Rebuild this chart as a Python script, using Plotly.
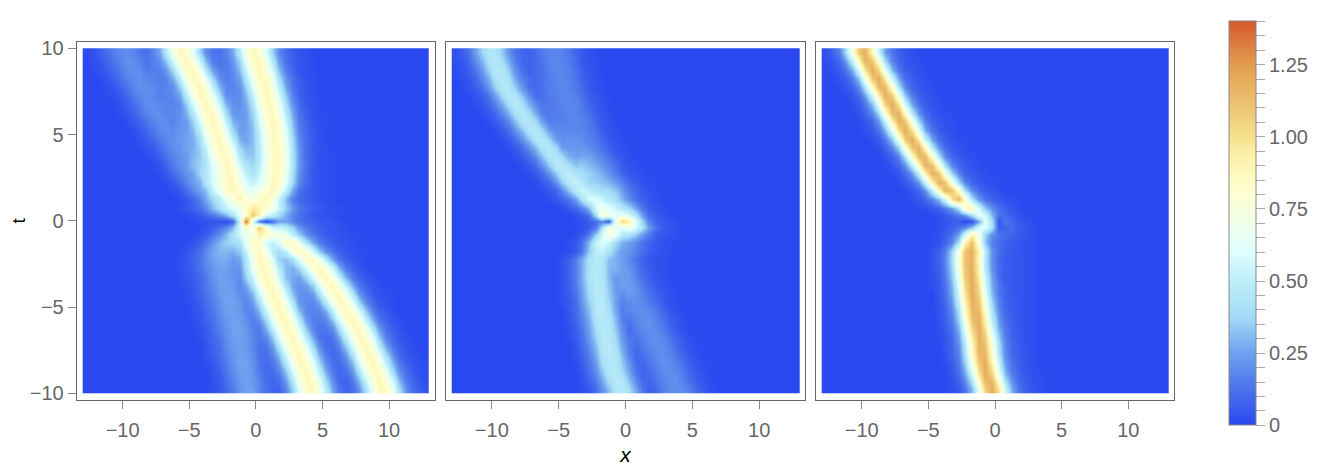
import plotly.graph_objects as go

# grid of the density maps, values are in hundredths
x_vals = [-12.75 + 0.5 * i for i in range(52)]
t_vals = [9.75, 9.25, 8.75, 8.25, 7.75, 7.25, 6.75, 6.25, 5.75, 5.25, 4.75, 4.25, 3.75, 3.25, 2.75, 2.25, 1.75, 1.25,
          0.75, 0.35, 0, -0.35, -0.75,
          -1.25, -1.75, -2.25, -2.75, -3.25, -3.75, -4.25, -4.75, -5.25, -5.75, -6.25, -6.75, -7.25, -7.75, -8.25,
          -8.75, -9.25, -9.75]


def row(x_start, vals):
    # rows only list the part that is off the background
    i = int((x_start + 12.75) / 0.5)
    return [0] * i + vals + [0] * (52 - i - len(vals))


z_left = [
    row(-12.75, [1,3,7,11,16,19,20,18,14,12,17,27,46,72,87,83,64,37,19,13,12,16,27,49,73,87,82,60,35,18,10,6,3,2,1]),
    row(-12.25, [2,4,8,12,17,20,20,17,12,16,20,32,54,78,88,78,54,30,15,13,14,22,37,64,84,87,71,45,24,12,7,4,2,1]),
    row(-12.25, [1,3,6,10,14,19,20,19,15,15,16,22,38,64,84,87,71,45,24,16,15,19,31,53,77,88,78,55,31,15,8,4,2,1]),
    row(-11.75, [1,3,7,11,16,19,20,18,17,15,17,27,47,72,87,82,62,37,19,16,18,25,44,69,86,85,66,40,21,11,6,3,2,1]),
    row(-11.25, [2,4,8,12,17,20,20,19,16,17,20,34,57,80,88,76,51,28,18,17,21,36,60,81,88,74,49,26,13,7,4,2,1]),
    row(-11.25, [1,2,5,9,14,18,20,19,16,17,19,26,45,70,87,84,65,39,20,19,20,30,50,75,88,80,58,33,16,8,4,2,1]),
    row(-10.75, [1,3,6,10,15,19,20,18,18,17,20,33,56,79,88,77,52,29,20,20,26,44,69,86,85,67,40,21,11,5,3,1]),
    row(-10.25, [2,4,7,12,17,20,20,17,19,20,27,45,69,86,85,66,40,23,22,24,38,61,82,87,73,47,26,13,7,3,2,1]),
    row(-9.75, [2,5,8,13,17,20,20,17,21,23,36,58,80,88,76,51,28,24,24,34,56,78,88,78,54,30,15,8,4,2,1]),
    row(-9.25, [2,5,9,14,18,20,19,22,23,31,48,71,87,84,64,37,24,25,32,51,74,88,81,60,33,17,9,5,2,1]),
    row(-9.25, [1,3,6,10,15,18,20,23,24,28,40,63,81,88,74,49,28,25,31,48,71,87,84,64,37,19,10,5,3,1]),
    row(-8.75, [1,3,6,11,16,20,21,26,28,36,53,76,87,82,62,36,30,32,47,69,86,85,67,40,21,11,5,3,2,1]),
    row(-8.25, [1,3,7,12,17,21,22,30,34,47,69,83,87,71,45,35,33,46,67,85,86,69,42,22,11,5,3,2,1]),
    row(-7.75, [1,4,8,14,19,23,32,36,44,62,76,88,80,57,43,37,49,67,85,86,69,42,22,12,6,3,2,1]),
    row(-7.25, [2,5,10,16,21,25,37,45,59,74,86,85,67,51,43,53,69,86,85,67,40,21,11,5,3,2,1]),
    row(-6.75, [2,5,11,17,24,28,45,59,72,81,88,74,60,50,58,72,87,82,62,37,19,10,5,3,2,1]),
    row(-6.25, [2,5,11,18,26,31,52,70,84,87,82,66,65,72,81,88,74,49,26,13,8,5,3,2,1]),
    row(-5.75, [2,4,9,16,26,38,48,62,78,88,80,74,80,88,78,52,30,16,10,7,5,3,2,1]),
    row(-5.75, [2,4,7,12,19,30,42,52,60,70,82,98,92,80,70,52,35,22,14,10,6,5,3,2,2,1]),
    row(-5.25, [1,3,5,9,14,20,28,42,62,85,108,90,58,48,38,28,18,12,8,5,4,3,2,1]),
    row(-4.75, [1,2,3,3,3,1,8,55,135,60,14,1,12,25,25,18,13,9,7,5,4,3,2,1]),
    row(-4.25, [1,3,7,12,18,30,58,78,70,108,82,55,52,48,35,22,15,10,7,5,4,3,2,1]),
    row(-4.75, [1,3,6,12,20,30,42,58,68,72,92,86,76,72,66,50,34,22,14,9,6,4,3,2,1,1]),
    row(-5.25, [1,3,7,13,22,30,35,38,42,65,86,82,58,50,62,85,86,66,42,26,16,10,6,4,3,2,1]),
    row(-5.75, [1,3,7,12,19,26,30,30,28,34,52,78,87,70,48,40,50,76,88,80,56,34,20,12,7,4,3,2,1]),
    row(-6.25, [1,2,4,8,13,19,25,27,27,23,26,44,70,87,82,58,36,32,40,62,82,87,72,46,25,13,7,4,2,1]),
    row(-6.25, [1,2,4,7,12,17,22,25,25,21,22,41,66,84,87,70,46,31,28,36,57,78,88,78,54,30,15,8,4,2,1]),
    row(-5.75, [1,3,6,10,15,21,25,25,22,20,35,54,77,88,79,56,31,27,24,36,57,80,88,76,51,28,14,8,4,2,1]),
    row(-5.75, [1,2,5,9,14,19,24,25,23,18,26,43,68,86,86,68,41,25,22,24,35,60,81,88,74,49,26,13,7,4,2,1]),
    row(-5.25, [2,4,8,12,18,23,25,24,20,19,30,52,77,88,79,56,31,21,20,22,39,65,84,87,70,44,23,12,6,3,2,1]),
    row(-5.25, [1,3,6,11,16,21,25,25,22,17,23,39,65,84,87,70,44,23,19,18,24,44,70,87,84,65,39,20,10,5,3,1]),
    row(-4.75, [2,5,9,14,20,24,25,23,18,18,29,51,76,88,80,57,32,19,17,17,26,49,74,88,81,60,34,17,9,5,2,1]),
    row(-4.75, [1,4,8,12,18,22,25,24,20,16,20,37,64,84,87,72,46,24,16,15,18,32,57,80,88,76,51,28,14,8,4,2,1]),
    row(-4.25, [3,6,11,16,21,25,25,22,17,14,27,49,74,88,81,60,34,17,13,14,20,39,65,84,87,70,44,23,12,6,3,1]),
    row(-4.25, [2,5,9,14,20,24,25,23,18,14,18,34,60,81,88,74,49,26,13,10,14,26,49,74,88,81,60,34,17,9,5,2,1]),
    row(-3.75, [4,8,12,18,23,25,23,18,13,13,24,44,70,87,84,65,39,20,11,10,17,34,60,81,88,74,49,26,13,7,4,2,1]),
    row(-3.75, [3,7,11,17,22,25,24,19,13,11,18,32,57,80,88,76,51,28,14,9,12,23,44,70,87,84,65,39,20,10,5,3,1]),
    row(-3.75, [2,5,9,15,21,25,25,20,14,10,13,23,44,70,87,84,65,39,20,11,10,16,31,56,79,88,77,52,29,15,8,4,2,1]),
    row(-3.25, [4,7,13,19,24,25,22,15,10,10,16,32,57,80,88,76,51,28,14,9,11,22,42,69,86,85,67,40,21,11,6,3,1]),
    row(-3.25, [3,6,11,17,23,25,22,17,11,9,12,24,46,72,87,84,64,37,19,10,8,15,30,54,78,88,78,54,30,15,8,4,2]),
    row(-3.25, [2,5,9,15,21,25,24,18,12,8,8,18,36,61,82,87,73,47,25,13,8,11,21,41,68,86,86,68,41,21,11,6,3]),
]

z_mid = [
    row(-12.75, [3,7,13,23,36,45,45,34,21,13,9,8,11,14,17,18,17,14,9,5,3,1]),
    row(-12.75, [2,4,9,18,29,42,46,40,27,16,9,8,10,13,17,18,17,15,10,6,3,2,1]),
    row(-12.75, [1,3,7,13,23,36,45,45,34,21,12,8,10,12,16,18,18,16,12,7,4,2,1]),
    row(-12.25, [2,4,9,18,29,42,46,40,27,16,11,9,12,15,17,18,17,13,8,5,3,1]),
    row(-12.25, [1,3,6,12,22,35,45,45,35,22,12,10,12,15,17,18,17,14,10,5,3,1]),
    row(-11.75, [1,3,7,14,24,38,46,44,32,20,11,11,15,16,18,18,16,12,7,4,2,1]),
    row(-11.25, [2,4,9,16,27,40,46,42,29,18,14,14,15,17,18,17,14,9,5,3,1]),
    row(-10.75, [2,4,9,18,29,42,46,40,27,16,15,15,16,18,18,15,12,6,4,2,1]),
    row(-10.25, [2,5,10,19,31,43,46,38,25,15,16,17,17,18,17,14,9,5,3,1]),
    row(-9.75, [2,5,11,20,32,44,46,37,24,19,19,19,18,18,15,12,6,4,2,1]),
    row(-9.25, [2,5,11,20,32,44,46,37,24,20,21,21,19,17,14,9,5,3,2,1]),
    row(-8.75, [2,5,11,20,32,44,46,37,24,22,22,22,19,16,12,7,4,2,1]),
    row(-8.25, [2,5,11,20,32,44,46,37,28,25,26,25,20,17,12,6,4,2,1]),
    row(-7.75, [2,5,11,20,33,46,48,40,32,35,31,27,22,17,12,6,3,2,1]),
    row(-7.25, [2,5,11,21,33,46,50,44,38,36,32,28,21,15,9,5,3,2,1]),
    row(-6.75, [2,5,10,20,34,47,52,46,36,35,33,30,23,17,10,6,3,2,1]),
    row(-6.25, [1,4,9,18,33,47,55,50,42,40,38,33,24,15,9,5,3,2,1]),
    row(-5.75, [2,4,8,14,24,42,58,60,54,46,40,30,20,12,7,4,2,1]),
    row(-4.75, [2,5,9,16,30,58,70,62,54,46,38,26,14,7,4,2,1]),
    row(-3.75, [2,5,12,40,78,70,62,68,60,44,25,11,6,3,2,1]),
    row(-3.75, [1,3,6,10,18,4,70,105,92,60,38,16,8,5,3,2,1]),
    row(-3.25, [2,6,14,40,76,66,62,70,58,42,24,12,6,4,2,1]),
    row(-3.75, [1,5,14,34,58,75,66,46,42,34,24,14,7,4,3,2,1]),
    row(-4.25, [2,4,12,30,52,60,54,38,28,24,19,13,8,5,3,2,1]),
    row(-4.75, [1,2,5,14,34,50,52,42,30,24,22,17,12,7,4,3,2,1]),
    row(-4.75, [3,7,16,27,41,48,44,31,28,24,19,13,8,4,3,2,1]),
    row(-4.75, [3,8,16,28,42,48,44,30,28,25,22,15,10,6,3,2,1]),
    row(-4.75, [3,8,16,28,42,48,44,30,23,24,23,17,12,7,4,3,1]),
    row(-4.75, [3,7,15,26,40,48,45,32,22,24,24,21,15,10,5,3,2,1]),
    row(-4.75, [3,6,13,24,38,47,46,34,24,19,23,21,18,13,8,5,3,1]),
    row(-4.75, [2,5,11,22,34,46,47,38,24,16,19,20,19,15,11,6,3,2,1]),
    row(-4.25, [5,10,19,31,45,48,40,26,15,18,19,20,19,15,9,5,3,1]),
    row(-4.25, [4,9,16,28,42,48,44,30,17,13,18,20,20,17,13,8,4,2,1]),
    row(-4.25, [3,7,14,25,39,47,45,33,20,11,15,19,20,19,15,10,5,3,1]),
    row(-4.25, [2,5,12,23,36,46,46,37,23,13,13,16,19,20,18,14,8,5,2,1]),
    row(-3.75, [4,10,19,31,45,48,40,26,15,11,14,18,20,19,16,11,6,3,2,1]),
    row(-3.75, [4,8,16,28,42,48,44,30,17,9,11,16,19,20,18,14,8,5,2,1]),
    row(-3.75, [2,6,13,24,38,47,46,34,22,11,9,13,17,20,20,16,12,7,4,2,1]),
    row(-3.25, [4,11,20,32,45,47,39,26,14,8,10,15,19,20,19,15,9,5,3,1]),
    row(-3.25, [3,8,15,26,40,48,45,32,19,10,9,13,17,20,20,16,12,7,4,2,1]),
    row(-3.25, [2,5,11,20,32,45,47,39,26,14,7,10,16,19,20,19,16,10,6,3,1]),
]

z_right = [
    row(-12.75, [3,7,15,36,74,110,118,90,50,25,13,7,4,2,1]),
    row(-12.75, [1,4,9,20,46,86,117,112,79,40,18,9,5,3,2,1]),
    row(-12.75, [1,2,5,11,26,57,97,120,104,66,31,14,7,4,2,1]),
    row(-12.25, [1,3,6,14,33,70,108,119,94,54,25,11,6,3,2,1]),
    row(-11.75, [1,3,8,18,42,83,115,115,83,42,19,9,5,3,2,1]),
    row(-11.25, [1,4,10,24,53,94,119,108,70,33,15,7,4,2,1]),
    row(-10.75, [2,5,13,30,66,104,120,97,57,26,12,6,3,2,1]),
    row(-10.75, [1,3,8,17,39,79,112,117,86,46,21,10,5,3,2,1]),
    row(-10.25, [1,4,9,22,50,90,118,110,75,37,17,8,4,3,2,1]),
    row(-9.75, [2,5,12,28,61,101,120,101,61,28,13,6,3,2,1]),
    row(-9.25, [2,6,14,33,70,108,119,94,54,25,11,6,3,2,1]),
    row(-8.75, [3,8,17,39,79,112,117,86,46,21,10,5,3,2,1]),
    row(-8.25, [3,8,18,42,83,115,115,83,42,19,9,5,3,2,1]),
    row(-8.25, [1,4,9,20,46,86,117,112,79,40,18,9,5,3,2,1]),
    row(-7.75, [1,4,10,22,50,90,118,110,75,37,17,8,5,3,2,1]),
    row(-7.25, [1,4,10,22,50,90,118,110,75,37,17,9,5,3,2,1]),
    row(-6.75, [1,4,9,20,46,86,117,112,79,40,19,10,6,4,2,1]),
    row(-6.25, [2,4,9,17,30,56,98,116,82,42,22,13,8,5,3,2,1]),
    row(-5.75, [1,2,4,8,14,24,42,85,88,58,34,20,12,7,4,2,1]),
    row(-4.75, [1,2,5,9,14,20,40,65,58,30,12,10,6,3,2,1]),
    row(-4.75, [1,2,4,6,6,1,3,25,65,40,3,14,9,5,3,2,1]),
    row(-4.25, [2,4,7,12,18,32,58,62,42,5,8,10,6,4,2,1]),
    row(-4.75, [1,3,6,12,24,56,90,70,38,20,13,10,8,6,4,2,1]),
    row(-4.75, [1,3,8,18,42,90,112,72,34,16,11,8,6,5,3,2,1]),
    row(-4.75, [3,7,16,37,75,110,118,89,48,21,11,7,5,4,3,2,1]),
    row(-4.75, [3,8,17,39,79,112,117,86,46,20,10,6,5,4,3,2,1]),
    row(-4.75, [3,7,16,37,75,110,118,89,48,21,10,6,5,4,3,2,1]),
    row(-4.75, [2,6,14,33,70,108,119,94,54,25,11,6,5,4,3,2,1]),
    row(-4.75, [2,5,12,29,63,103,120,99,58,27,13,7,5,4,3,2,1]),
    row(-4.25, [5,11,26,57,97,120,104,66,31,14,8,5,4,3,2,1]),
    row(-4.25, [4,9,22,50,90,118,110,75,37,17,9,6,4,3,2,1]),
    row(-4.25, [3,8,18,42,83,115,115,83,42,19,10,6,4,3,2,1]),
    row(-4.25, [3,7,15,36,74,110,118,90,50,23,12,7,4,3,2,1]),
    row(-4.25, [2,5,12,29,63,103,120,99,58,27,14,7,5,3,2,1]),
    row(-4.25, [1,4,10,24,53,94,119,108,70,34,16,8,5,3,2,1]),
    row(-3.75, [4,9,20,46,86,117,112,79,40,19,10,6,3,2,1]),
    row(-3.75, [3,8,18,42,83,115,115,83,42,20,10,6,4,2,1]),
    row(-3.75, [2,6,15,35,72,109,119,92,52,24,12,7,4,2,1]),
    row(-3.25, [5,11,27,58,99,120,103,63,30,14,8,4,3,2,1]),
    row(-3.25, [3,8,19,43,85,116,114,81,41,20,10,6,3,2,1]),
    row(-3.25, [2,5,13,30,66,104,120,97,57,27,13,7,4,2,1]),
]

colorbar_ticks = [0.05 * i for i in range(29)]
colorbar_labels = {0: "0", 5: "0.25", 10: "0.50", 15: "0.75", 20: "1.00", 25: "1.25"}
temperature_map = [
    [0, "#2a48ef"], [0.1, "#4f78ec"], [0.18, "#6fa3ef"], [0.27, "#a5dcf7"], [0.357, "#bdeff9"],
    [0.43, "#deffff"], [0.5, "#f0ffe8"], [0.58, "#ffffd0"], [0.67, "#fbf0a8"], [0.724, "#f5dc88"],
    [0.82, "#eab868"], [0.893, "#e29c50"], [1, "#d6582e"],
]

# the page adds an 8px body margin, so the figure is 16px smaller and every pixel position is shifted
W, H = 1306, 458
PAGE_MARGIN = 8
FONT = "Liberation Sans"
GREY = "#666666"
panels = [(z_left, 76.7, 435), (z_mid, 445.7, 805.3), (z_right, 815.7, 1174.3)]

fig = go.Figure()
for n, (z, left, right) in enumerate(panels, start=1):
    fig.add_trace(go.Heatmap(
        x=x_vals,
        y=t_vals[::-1],
        z=[[v / 100 for v in r] for r in z[::-1]],
        zsmooth="best",
        coloraxis="coloraxis",
        xaxis="x" if n == 1 else f"x{n}",
        yaxis="y" if n == 1 else f"y{n}",
    ))
    axis_id = "" if n == 1 else str(n)
    fig.update_layout({
        f"xaxis{axis_id}": dict(
            domain=[(left - PAGE_MARGIN) / W, (right - PAGE_MARGIN) / W], range=[-13.45, 13.45],
            anchor=f"y{axis_id}",
            tickvals=[-10, -5, 0, 5, 10], ticks="outside", ticklen=8, tickcolor="#888888", ticklabelstandoff=4,
            showgrid=False, zeroline=False, showline=True, mirror=True, linecolor=GREY, linewidth=1,
            tickfont=dict(family=FONT, size=20, color=GREY),
        ),
        f"yaxis{axis_id}": dict(
            domain=[1 - (400 - PAGE_MARGIN) / H, 1 - (41.7 - PAGE_MARGIN) / H], range=[-10.38, 10.38],
            anchor=f"x{axis_id}",
            tickvals=[-10, -5, 0, 5, 10] if n == 1 else [], ticks="outside" if n == 1 else "",
            ticklen=8, tickcolor="#888888",
            showgrid=False, zeroline=False, showline=True, mirror=True, linecolor=GREY, linewidth=1,
            tickfont=dict(family=FONT, size=20, color=GREY),
        ),
    })

fig.update_layout(
    width=W, height=H,
    margin=dict(l=0, r=0, t=0, b=0, autoexpand=False),
    paper_bgcolor="white", plot_bgcolor="white",
    coloraxis=dict(
        cmin=0, cmax=1.4, colorscale=temperature_map,
        colorbar=dict(
            x=(1229.3 - PAGE_MARGIN) / W, xanchor="left", xpad=0, ypad=0,
            y=(H - (425.3 - PAGE_MARGIN)) / H, yanchor="bottom",
            thickness=27.4, len=404, lenmode="pixels",
            outlinecolor="#888888", outlinewidth=1,
            tickmode="array", tickvals=colorbar_ticks,
            ticktext=[colorbar_labels.get(i, "") for i in range(29)],
            ticks="outside", ticklen=9, tickcolor="#aaaaaa",
            tickfont=dict(family=FONT, size=20, color=GREY),
        ),
    ),
    yaxis_title=dict(text="t", font=dict(family=FONT, size=19, color="black"), standoff=11),
    xaxis2_title=dict(text="<i>x</i>", font=dict(family=FONT, size=21, color="black"), standoff=8),
)

fig.write_html("out.html")
